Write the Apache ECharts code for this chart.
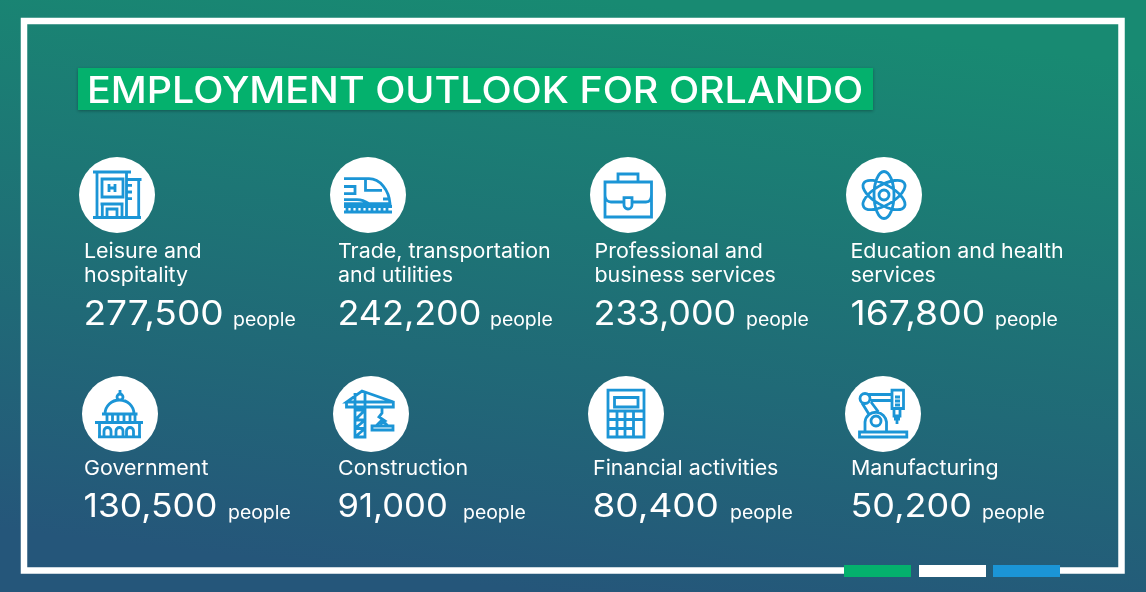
<!DOCTYPE html>
<html>
<head>
<meta charset="utf-8">
<title>Employment outlook for Orlando</title>
<script src="https://cdn.jsdelivr.net/npm/echarts@6/dist/echarts.min.js"></script>
<style>
html, body { margin: 0; padding: 0; background: #1f7274; }
#chart { width: 1146px; height: 592px; }
</style>
</head>
<body>
<div id="chart"></div>
<script>
// chart content
var chartTitle = 'EMPLOYMENT OUTLOOK FOR ORLANDO';
var unitLabel = 'people';
var categories = [
    ['Leisure and', 'hospitality'],
    ['Trade, transportation', 'and utilities'],
    ['Professional and', 'business services'],
    ['Education and health', 'services'],
    ['Government'],
    ['Construction'],
    ['Financial activities'],
    ['Manufacturing']
];
var people = [277500, 242200, 233000, 167800, 130500, 91000, 80400, 50200];

// layout, one entry per category
var circleX = [117, 368, 628, 884, 120, 371, 626, 883];
var circleY = [195, 195, 195, 195, 414, 414, 414, 414];
var labelX = [84, 338, 594.5, 850.5, 84, 338, 593, 851];
var valueX = [83.5, 337.5, 593.5, 850.5, 83.5, 337.5, 592.5, 850.5];
var unitX = [233, 490, 746, 995, 228, 463, 730, 982];
var labelY = [252, 252, 252, 252, 469, 469, 469, 469];
var valueY = [314.5, 314.5, 314.5, 314.5, 507.5, 507.5, 507.5, 507.5];
var valueSize = [34.5, 34.5, 34.5, 34.5, 33, 33, 33, 33];
// Inter digits run narrower or wider than the reference digits
var valueStretch = [1.075, 1.04, 1.04, 1.08, 1.075, 1.05, 1.12, 1.09];

var BLUE = '#1b95d6';
var GREEN = '#04b16d';
var FONT = 'Inter';
var TEXT_STRETCH = 1.05;

// icons are drawn around the circle centre, the first two moves pin the box to 54x54
var iconBox = 'M-27 -27M27 27';
var icons = [
    // hotel
    'M-24 -23H14M-20 -23V22M9.5 -23V22M-15 -16H6V2H-15ZM-8 -11V-3M-2 -11V-3M-8 -7H-2' +
    'M9.5 -15.5H24.5M21.7 -15.5V22M10 -9.7H15M10 -3H15M10 3.7H15M-24 22.5H24' +
    'M-16.5 9H6.5M-14.7 9V22M5 9V22M-10 22V14H0V22',
    // train
    'M-24 -16.3H1C12 -16.3 21 -5 22 8.7H-24M-2.5 -15V-4.7H14M-24 -8.5H-13V-1.3H-24' +
    'M-24 4.6H-11C-6 4.6 -3 6 1 8.7M15 4H21M-24 11.5H24M-24 17H24' +
    'M-21 11.5V17M-16 11.5V17M-11 11.5V17M-6 11.5V17M-1 11.5V17M4 11.5V17M9 11.5V17M14 11.5V17M19 11.5V17',
    // briefcase
    'M-23 -13H23.5V22H-23ZM-10 -13V-21H10V-13M-23 0C-23 5 -20 7 -17 7H-4M4 7H18C21 7 23.5 5 23.5 0' +
    'M-4 2.7H4V10A4 4 0 0 1 -4 10Z',
    // atom
    'M0 -23.5A10 23.5 0 1 1 0 23.5A10 23.5 0 1 1 0 -23.5' +
    'M20.35 -11.75A10 23.5 60 1 1 -20.35 11.75A10 23.5 60 1 1 20.35 -11.75' +
    'M-20.35 -11.75A10 23.5 -60 1 1 20.35 11.75A10 23.5 -60 1 1 -20.35 -11.75' +
    'M5 0A5 5 0 1 1 -5 0A5 5 0 1 1 5 0',
    // capitol
    'M-22 22.8H21M-25 8.5H23M-18 0H17.5M-15 0A14.5 14 0 0 1 14 0M0 -24V-20' +
    'M3 -17A3 3 0 1 1 -3 -17A3 3 0 1 1 3 -17' +
    'M-13 0V8.5M-7.5 0V8.5M-2 0V8.5M4 0V8.5M10 0V8.5M15 0V8.5M-20.5 8.5V22.8M19.5 8.5V22.8' +
    'M-16 22.8V17A3.5 3.5 0 0 1 -9 17V22.8M-4 22.8V17A3.5 3.5 0 0 1 3 17V22.8M6.5 22.8V17A3.5 3.5 0 0 1 13.5 17V22.8',
    // crane
    'M-16 -21V23H-6V-22M-24.5 -12V-7H22.3V-12L-9 -23L-24.5 -12H22.3M-16 -4H-6M-16 6H-6M-16 14.5H-6' +
    'M-16 6L-6 -4M-16 14.5L-6 6M-16 23L-6 14.5M11 -7V-1L8 3L14 7L9 10M1 12H22V16H1ZM5 12L11 6L17 12',
    // calculator
    'M-18 -23.8H18V23H-18ZM-11.5 -16.5H12V-7H-11.5ZM-18 -3H18M-18 5.5H18M-18 14.5H7.5' +
    'M-9 -3V23M-1 -3V23M7.5 -3V23',
    // robot arm
    'M-23.5 18H23.8V23H-23.5ZM-18 18V8A10.8 10.8 0 0 1 3.5 8V18M-2 7A5 5 0 1 1 -12 7A5 5 0 1 1 -2 7' +
    'M-13 -15.5A5 5 0 1 1 -23 -15.5A5 5 0 1 1 -13 -15.5M-21 -11L-14.5 -0.5M-12 -12L-4.5 -2' +
    'M-16 -19.5H9M-12 -13.5H9M9 -23.8H20.5V-5.5H9ZM12 -17H17M12 -13H17M12 -9H17' +
    'M11 -5.5V2H17V-5.5M14 2V10M11 5H17'
];

function renderCell(params, api) {
    var i = params.dataIndex;
    var value = api.value(0);
    var children = [
        { type: 'circle', shape: { cx: circleX[i], cy: circleY[i], r: 38 }, style: { fill: '#fff' } },
        {
            type: 'path',
            x: circleX[i],
            y: circleY[i],
            shape: { pathData: iconBox + icons[i], layout: 'cover', x: -27, y: -27, width: 54, height: 54 },
            style: { fill: 'none', stroke: BLUE, lineWidth: 2.8 }
        }
    ];
    categories[i].forEach(function (line, n) {
        children.push({
            type: 'text',
            x: labelX[i],
            y: labelY[i] + n * 24,
            scaleX: TEXT_STRETCH,
            style: {
                text: line, fill: '#fff', fontFamily: FONT, fontSize: 20.4, fontWeight: 400,
                textAlign: 'left', textVerticalAlign: 'middle'
            }
        });
    });
    children.push({
        type: 'text',
        x: valueX[i],
        y: valueY[i],
        scaleX: valueStretch[i],
        style: {
            text: value.toLocaleString('en-US'), fill: '#fff', fontFamily: FONT, fontSize: valueSize[i], fontWeight: 400,
            textAlign: 'left', textVerticalAlign: 'middle'
        }
    });
    children.push({
        type: 'text',
        x: unitX[i],
        y: valueY[i] + 5.5,
        scaleX: TEXT_STRETCH,
        style: {
            text: unitLabel, fill: '#fff', fontFamily: FONT, fontSize: 18.5, fontWeight: 400,
            textAlign: 'left', textVerticalAlign: 'middle'
        }
    });
    return { type: 'group', children: children };
}

var myChart = echarts.init(document.getElementById('chart'), null, { renderer: 'canvas' });
myChart.setOption({
    animation: false,
    backgroundColor: {
        type: 'linear', x: 0.53, y: 0, x2: 0.47, y2: 1,
        colorStops: [
            { offset: 0, color: '#188a72' },
            { offset: 1, color: '#25567a' }
        ]
    },
    graphic: [
        // frame, open at the bottom where the accent bars sit
        {
            type: 'polyline',
            shape: { points: [[844, 570.5], [24, 570.5], [24, 21], [1121.5, 21], [1121.5, 570.5], [1060, 570.5]] },
            style: { fill: 'none', stroke: '#fff', lineWidth: 6.5, lineJoin: 'miter' }
        },
        // title
        { type: 'rect', shape: { x: 78, y: 68, width: 795, height: 42 }, style: { fill: GREEN, shadowBlur: 3, shadowColor: 'rgba(0,0,0,0.3)', shadowOffsetY: 1 } },
        {
            type: 'text', x: 87, y: 91.5, scaleX: 1.065,
            style: { text: chartTitle, fill: '#fff', fontFamily: FONT, fontSize: 37, fontWeight: 500, textVerticalAlign: 'middle' }
        },
        // accent bars
        { type: 'rect', shape: { x: 844, y: 565, width: 67, height: 12 }, style: { fill: GREEN } },
        { type: 'rect', shape: { x: 919, y: 565, width: 67, height: 12 }, style: { fill: '#fff' } },
        { type: 'rect', shape: { x: 993, y: 565, width: 67, height: 12 }, style: { fill: BLUE } }
    ],
    series: [{
        type: 'custom',
        coordinateSystem: 'none',
        silent: true,
        data: people,
        renderItem: renderCell
    }]
});
</script>
</body>
</html>
